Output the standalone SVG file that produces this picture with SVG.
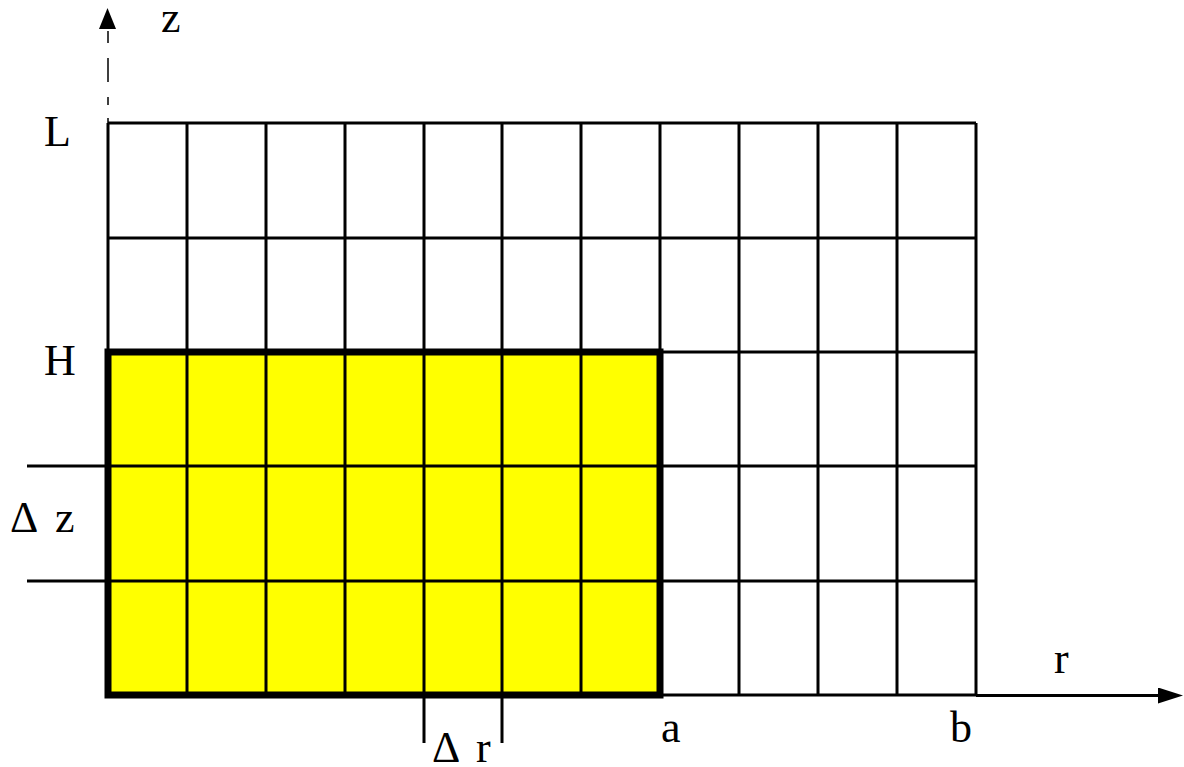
<svg xmlns="http://www.w3.org/2000/svg" width="1184" height="767" viewBox="0 0 1184 767">
<style>
.grid{stroke:#000;stroke-width:3;fill:none}
.thick{stroke:#000;stroke-width:7;fill:none}
.axis{stroke:#000;stroke-width:3;fill:none}
.dash{stroke:#000;stroke-width:1.5;fill:none}
.lbl{font-family:"Liberation Serif","Times New Roman",serif;font-size:44px;fill:#000}
</style>
<defs>
<marker id="ah" viewBox="0 0 25 16" refX="0" refY="8" markerWidth="25" markerHeight="16" markerUnits="userSpaceOnUse" orient="auto">
<path d="M0,0 L25,8 L0,16 Z" fill="#000"/>
</marker>
</defs>
<rect id="region" x="108" y="352" width="552" height="343" fill="#ffff00"/>
<g id="grid" class="grid">
<path d="M108,123 V695 M187,123 V695 M266,123 V695 M345,123 V695 M424,123 V695 M502,123 V695 M581,123 V695 M660,123 V695 M739,123 V695 M818,123 V695 M897,123 V695 M976,123 V695"/>
<path d="M108,123 H976 M108,238 H976 M108,352 H976 M108,466 H976 M108,581 H976 M108,695 H976"/>
</g>
<rect id="boundary" class="thick" x="108" y="352" width="552" height="343"/>
<g id="connectors">
<path class="axis" d="M976,695.5 H1158" marker-end="url(#ah)"/>
<path class="dash" d="M108,123 V118 M108,105 V97 M108,82 V58 M108,43 V31"/>
<path d="M99,29 L107.5,8 L116,29 Z" fill="#000"/>
<path class="grid" d="M27,466 H108 M27,581 H108"/>
<path class="grid" d="M424,695 V743 M502,695 V743"/>
</g>
<g id="labels">
<text class="lbl" x="161" y="32">z</text>
<text class="lbl" x="44" y="146">L</text>
<text class="lbl" x="44" y="375">H</text>
<text class="lbl" x="10" y="532">Δ</text>
<text class="lbl" x="55" y="532">z</text>
<text class="lbl" x="432" y="762">Δ</text>
<text class="lbl" x="476" y="762">r</text>
<text class="lbl" x="661" y="742">a</text>
<text class="lbl" x="950" y="742">b</text>
<text class="lbl" x="1054" y="673">r</text>
</g>
</svg>
